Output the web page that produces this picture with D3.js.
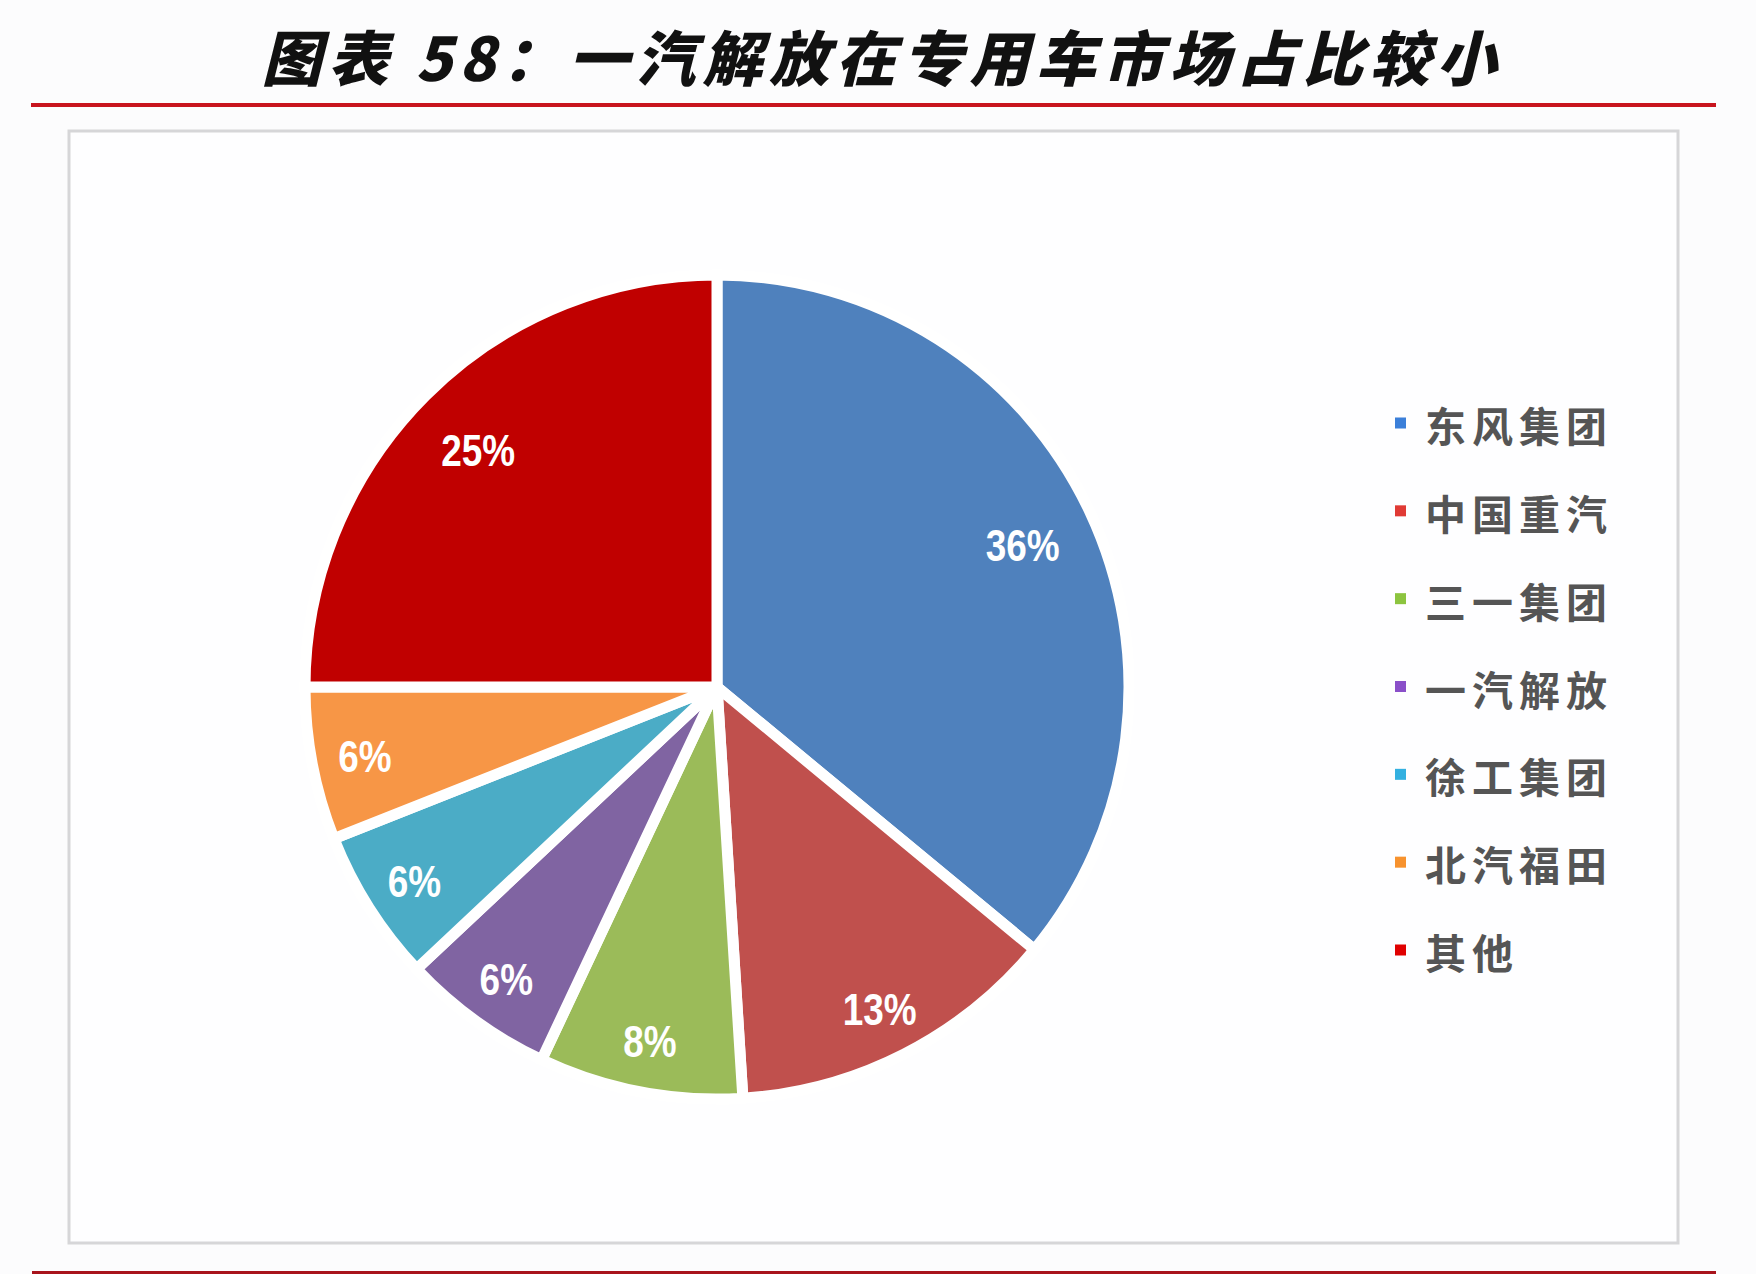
<!DOCTYPE html>
<html>
<head>
<meta charset="utf-8">
<script src="https://cdn.jsdelivr.net/npm/d3@7"></script>
<style>
  html, body { margin: 0; padding: 0; background: #fcfcfd; }
  svg { display: block; }
</style>
</head>
<body>
<svg id="chart" width="1756" height="1274"></svg>
<script>
const title = "图表 58：一汽解放在专用车市场占比较小";
const categories = ["东风集团", "中国重汽", "三一集团", "一汽解放", "徐工集团", "北汽福田", "其他"];
const shares = [36, 13, 8, 6, 6, 6, 25];
const colors = ["#4f81bd", "#c0504d", "#9bbb59", "#8064a2", "#4bacc6", "#f79646", "#c00000"];
const legendColors = ["#3b7fd9", "#e03a35", "#8cc43f", "#8a4fc9", "#33b0e0", "#f7922e", "#e00000"];

const svg = d3.select("#chart");

// Title
svg.append("text")
  .attr("x", 879).attr("y", 54)
  .attr("text-anchor", "middle")
  .attr("dominant-baseline", "central")
  .attr("font-family", "'Noto Sans CJK SC', sans-serif")
  .attr("font-weight", 900)
  .attr("font-style", "italic")
  .attr("font-size", 60)
  .attr("fill", "#111")
  .attr("textLength", 1235)
  .attr("lengthAdjust", "spacing")
  .text(title);

// Red rules
svg.append("rect").attr("x", 31).attr("y", 103).attr("width", 1685).attr("height", 4).attr("fill", "#c8141e");
svg.append("rect").attr("x", 32).attr("y", 1271).attr("width", 1684).attr("height", 4).attr("fill", "#a8141c");

// Frame
svg.append("rect")
  .attr("x", 69).attr("y", 131).attr("width", 1609).attr("height", 1112)
  .attr("fill", "#fefeff").attr("stroke", "#d6d6d8").attr("stroke-width", 3);

// Pie
const cx = 717, cy = 687, R = 412;
const pie = d3.pie().sort(null).value(d => d);
const arcs = pie(shares);
const arc = d3.arc().innerRadius(0).outerRadius(R);
const g = svg.append("g").attr("transform", `translate(${cx},${cy})`);

g.selectAll("path.slice").data(arcs).enter().append("path")
  .attr("class", "slice")
  .attr("d", arc)
  .attr("fill", (d, i) => colors[i])
  .attr("stroke", "#ffffff")
  .attr("stroke-width", 11)
  .attr("stroke-linejoin", "miter");

g.selectAll("text.lbl").data(arcs).enter().append("text")
  .attr("class", "lbl")
  .attr("transform", d => {
    const r = d.data >= 20 ? R * 0.82 : R * 0.87;
    const c = d3.arc().innerRadius(r).outerRadius(r).centroid(d);
    return `translate(${c[0]},${c[1] + 3}) scale(0.84,1)`;
  })
  .attr("text-anchor", "middle")
  .attr("dominant-baseline", "central")
  .attr("font-family", "'Liberation Sans', Arial, sans-serif")
  .attr("font-weight", "bold")
  .attr("font-size", 44)
  .attr("fill", "#ffffff")
  .text(d => d.data + "%");

// Legend
const ly = d3.scalePoint().domain(categories).range([423, 950]);
const lg = svg.append("g");
const items = lg.selectAll("g.item").data(categories).enter().append("g")
  .attr("class", "item")
  .attr("transform", d => `translate(1395,${ly(d)})`);
items.append("rect")
  .attr("x", 0).attr("y", -5.5).attr("width", 11).attr("height", 11)
  .attr("fill", (d, i) => legendColors[i]);
items.append("text")
  .attr("x", 30).attr("y", 1)
  .attr("dominant-baseline", "central")
  .attr("font-family", "'Noto Sans CJK SC', sans-serif")
  .attr("font-weight", 700)
  .attr("font-size", 41)
  .attr("letter-spacing", 6)
  .attr("fill", "#555555")
  .text(d => d);
</script>
</body>
</html>
